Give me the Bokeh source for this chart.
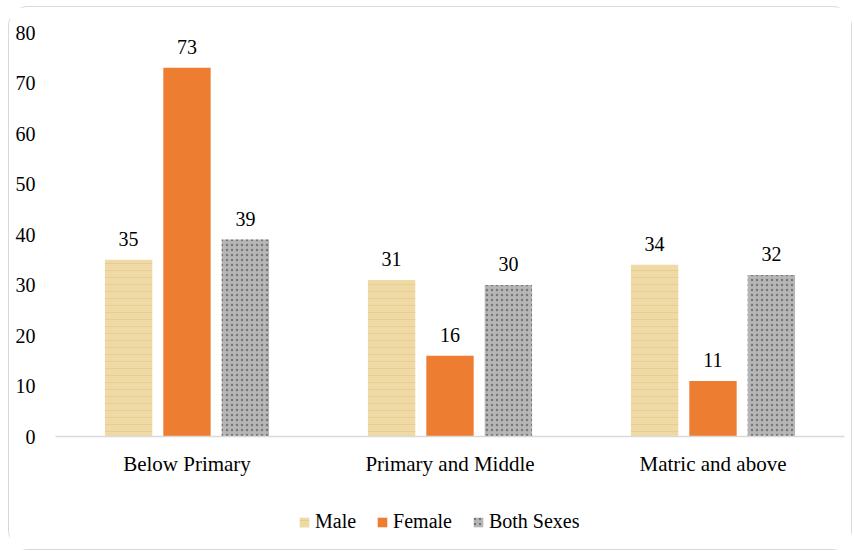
from bokeh.plotting import figure
from bokeh.layouts import column
from bokeh.models import ColumnDataSource, FactorRange, Range1d, Legend, LegendItem, LabelSet
from bokeh.transform import dodge
from bokeh.embed import file_html
from bokeh.resources import INLINE

categories = ["Below Primary", "Primary and Middle", "Matric and above"]
male = [35, 31, 34]
female = [73, 16, 11]
both = [39, 30, 32]
y_ticks = [0, 10, 20, 30, 40, 50, 60, 70, 80]
series_names = ["Male", "Female", "Both Sexes"]

src = ColumnDataSource(dict(cat=categories, male=male, female=female, both=both,
                            male_t=[str(v) for v in male], female_t=[str(v) for v in female],
                            both_t=[str(v) for v in both]))

FONT = "Liberation Serif"
STYLES = [
    dict(fill_color="#EFDAA5", line_color=None, hatch_pattern="horizontal_line",
         hatch_color="#DDC285", hatch_alpha=0.55, hatch_scale=7, hatch_weight=1),
    dict(fill_color="#ED7D31", line_color=None),
    dict(fill_color="#B6B6B6", line_color=None, hatch_pattern="dot",
         hatch_color="#666666", hatch_alpha=0.8, hatch_scale=5, hatch_weight=1.6),
]

W = 842
p = figure(x_range=FactorRange(*categories), y_range=Range1d(0, 80),
           width=W, height=489, output_backend="svg", toolbar_location=None,
           min_border_left=46, min_border_right=7, min_border_top=25, min_border_bottom=60)
p.outline_line_color = None
p.xgrid.grid_line_color = None
p.ygrid.grid_line_color = None

w = 0.18
off = 0.222
cols = ["male", "female", "both"]
offs = [-off, 0, off]
for col, o, st in zip(cols, offs, STYLES):
    p.vbar(x=dodge("cat", o, range=p.x_range), top=col, width=w, source=src, **st)
    p.add_layout(LabelSet(x=dodge("cat", o, range=p.x_range), y=col, text=col + "_t",
                          source=src, text_align="center", text_baseline="bottom",
                          y_offset=14, text_font=FONT, text_font_size="20px",
                          text_color="#000000"))

p.yaxis.ticker = y_ticks
p.yaxis.axis_line_color = None
p.yaxis.major_tick_line_color = None
p.yaxis.minor_tick_line_color = None
p.yaxis.major_label_standoff = 14
p.yaxis.major_label_text_font = FONT
p.yaxis.major_label_text_font_size = "20px"
p.yaxis.major_label_text_color = "#000000"

p.xaxis.axis_line_color = "#D9D9D9"
p.xaxis.axis_line_width = 1.5
p.xaxis.major_tick_line_color = None
p.xaxis.minor_tick_line_color = None
p.xaxis.major_label_standoff = 9
p.xaxis.major_label_text_font = FONT
p.xaxis.major_label_text_font_size = "21px"
p.xaxis.major_label_text_color = "#000000"

# legend strip
pl = figure(width=W, height=53, output_backend="svg", toolbar_location=None,
            x_range=Range1d(0, 1), y_range=Range1d(0, 1),
            x_axis_type=None, y_axis_type=None,
            min_border_left=0, min_border_right=0, min_border_top=0, min_border_bottom=0)
pl.outline_line_color = None
pl.xgrid.grid_line_color = None
pl.ygrid.grid_line_color = None
items = []
for name, st in zip(series_names, STYLES):
    r = pl.vbar(x=[-5], top=[-5], width=0.1, **st)
    items.append(LegendItem(label=name, renderers=[r]))
legend = Legend(items=items, orientation="horizontal", location=(243, 16),
                label_text_font=FONT, label_text_font_size="20px", label_text_color="#000000",
                glyph_width=12, glyph_height=12, spacing=20, label_standoff=5,
                border_line_color=None, background_fill_alpha=0, margin=0, padding=4)
pl.add_layout(legend, "center")

layout = column(p, pl, spacing=0,
                styles={"margin-left": "8px", "margin-top": "6px",
                        "border": "1.5px solid #D9D9D9", "border-radius": "20px"})

open("out.html", "w").write(file_html(layout, INLINE))
